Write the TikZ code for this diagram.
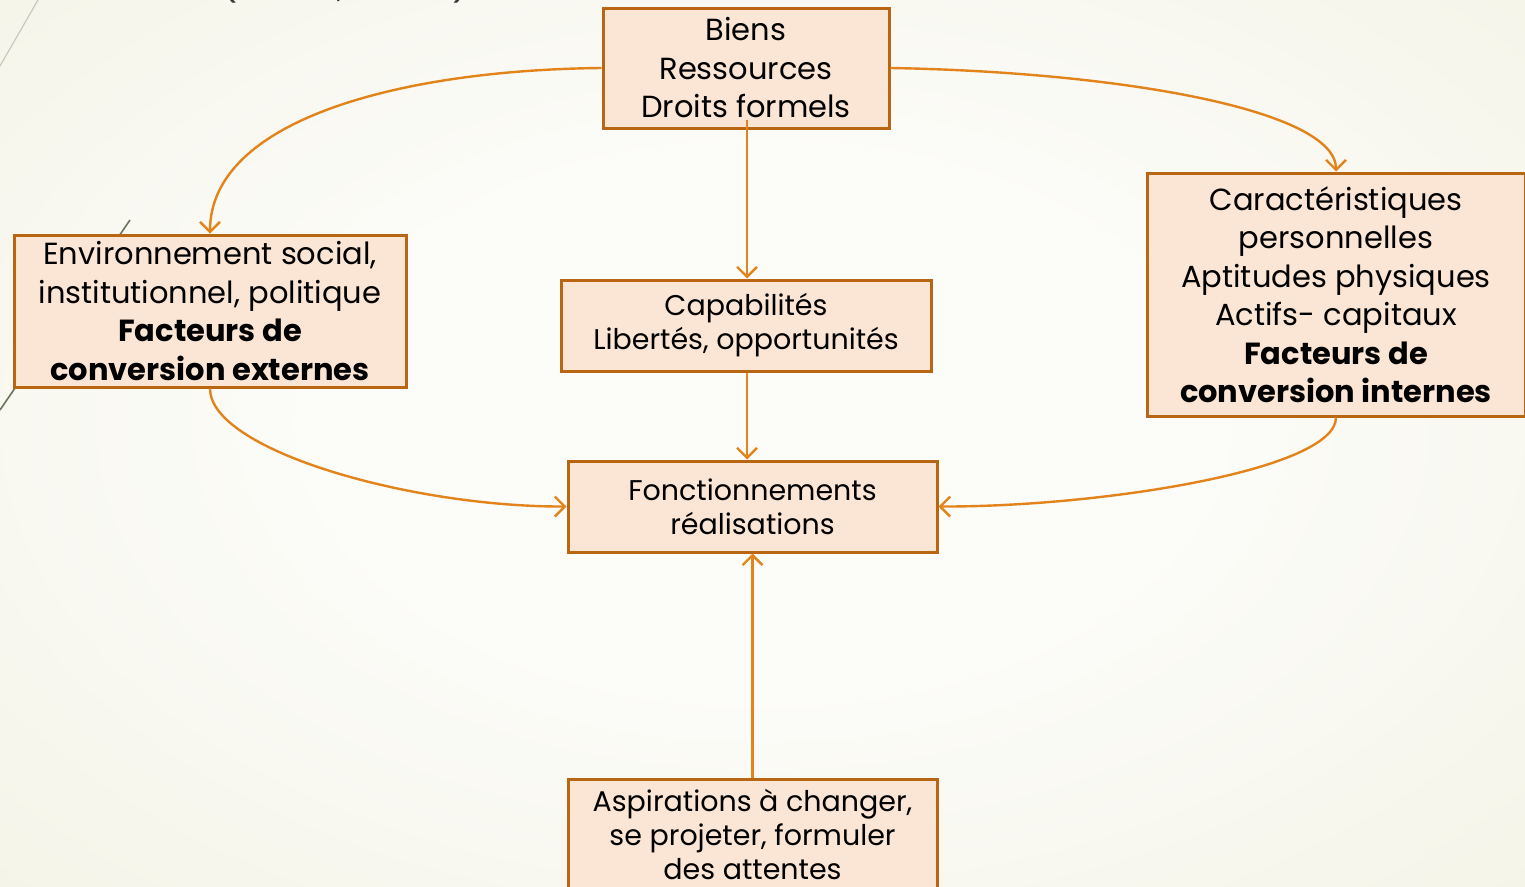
\documentclass[tikz,border=0pt]{standalone}
\usepackage{fontspec}
\setmainfont{Poppins}
\usetikzlibrary{arrows.meta,calc}
\definecolor{boxfill}{RGB}{251,229,212}
\definecolor{boxdraw}{RGB}{184,102,18}
\definecolor{arr}{RGB}{226,131,28}
\definecolor{bgin}{RGB}{252,252,249}
\definecolor{bgmid}{RGB}{245,244,232}
\definecolor{bgout}{RGB}{234,231,206}
\definecolor{deco}{RGB}{105,118,92}
\definecolor{decog}{RGB}{200,200,188}
\definecolor{toptext}{RGB}{60,60,60}
\pgfdeclareradialshading{bgshade}{\pgfpoint{0bp}{0bp}}{color(0bp)=(bgin); color(14bp)=(bgin); color(36bp)=(bgmid); color(58bp)=(bgout); color(75bp)=(bgout)}
\begin{document}
\begin{tikzpicture}[x=1pt,y=-1pt,
  box/.style={draw=boxdraw, line width=3pt, fill=boxfill, inner sep=0pt, align=center, text=black},
  bigtext/.style={font=\fontsize{30.5}{38.5}\selectfont},
  smalltext/.style={font=\fontsize{28.5}{34}\selectfont},
  conn/.style={draw=arr, line width=2.4pt, -{Straight Barb[length=10pt,width=20pt,line width=2.4pt]}}]
\useasboundingbox (0,0) rectangle (1525,886);
\shade[shading=bgshade] (0,-40) rectangle (1525,886);
% decorative lines
\draw[decog, line width=1.2pt] (0,66) -- (38,0);
\draw[deco, line width=1.6pt] (130,220) -- (0,410);
% partially visible title
\node[anchor=base, text=toptext, font=\fontsize{36}{40}\selectfont] (title) at (345,-4) {(\hspace{100pt},\hspace{108pt})};
% boxes
\node[box, bigtext, minimum width=286pt, minimum height=120pt] (biens) at (746,68) {Biens\\Ressources\\Droits formels};
\node[box, bigtext, minimum width=392pt, minimum height=152pt] (env) at (210,311) {Environnement social,\\institutionnel, politique\\\textbf{Facteurs de}\\\textbf{conversion externes}};
\node[box, smalltext, minimum width=370pt, minimum height=91pt] (capa) at (746,325.5) {Capabilités\\Libertés, opportunités};
\node[box, bigtext, minimum width=378pt, minimum height=243pt] (carac) at (1336,294.5) {Caractéristiques\\personnelles\\Aptitudes physiques\\Actifs- capitaux\\\textbf{Facteurs de}\\\textbf{conversion internes}};
\node[box, smalltext, minimum width=369pt, minimum height=91pt] (fonct) at (752.5,506.5) {Fonctionnements\\réalisations};
\node[box, smalltext, minimum width=369pt, minimum height=110pt] (aspir) at (752.5,834) {Aspirations à changer,\\se projeter, formuler\\des attentes};
% connectors
\draw[conn] (biens.west) .. controls (400,70) and (210,120) .. (env.north);
\draw[conn] (biens.east) .. controls (1120,72) and (1336,110) .. (carac.north);
\coordinate (bstart) at ($(biens.south)+(1,-10)$);
\draw[conn] (bstart) -- (bstart |- capa.north);
\draw[conn] (capa.south -| bstart) -- (fonct.north -| bstart);
\draw[conn] (env.south) .. controls (210,450) and (410,507) .. (fonct.west);
\draw[conn] (carac.south) .. controls (1336,470) and (1100,507) .. (fonct.east);
\draw[conn] (aspir.north) -- (fonct.south);
\end{tikzpicture}
\end{document}
